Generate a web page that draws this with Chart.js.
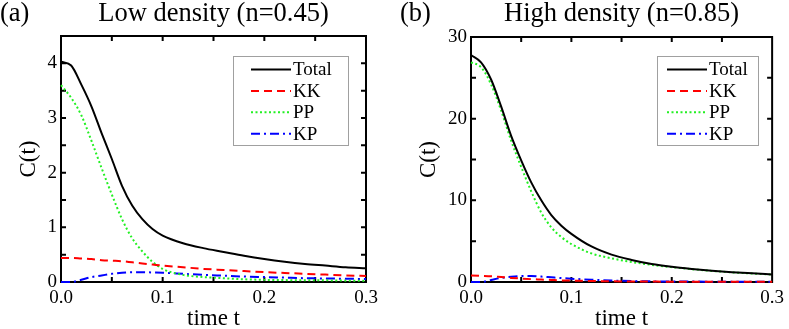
<!DOCTYPE html>
<html>
<head>
<meta charset="utf-8">
<script src="https://cdn.jsdelivr.net/npm/chart.js@4.4.1/dist/chart.umd.min.js"></script>
<style>
  html, body { margin: 0; padding: 0; background: #fff; }
  #wrap { position: relative; width: 789px; height: 329px; }
  canvas { position: absolute; top: 0; }
</style>
</head>
<body>
<div id="wrap">
  <canvas id="chartA" width="400" height="329" style="left:0"></canvas>
  <canvas id="chartB" width="389" height="329" style="left:400px"></canvas>
</div>
<script>
// time points shared by both panels
const times = [0, 0.01, 0.02, 0.03, 0.04, 0.05, 0.06, 0.07, 0.08, 0.09, 0.1,
  0.12, 0.14, 0.16, 0.18, 0.2, 0.22, 0.24, 0.26, 0.28, 0.3];

// (a) low density n=0.45
const totalA = [4.03, 3.96, 3.61, 3.21, 2.72, 2.25, 1.76, 1.40, 1.15, 0.97, 0.85,
  0.71, 0.62, 0.55, 0.48, 0.42, 0.37, 0.33, 0.30, 0.27, 0.25];
const kkA = [0.44, 0.44, 0.43, 0.42, 0.40, 0.39, 0.38, 0.36, 0.34, 0.32, 0.30,
  0.27, 0.24, 0.22, 0.20, 0.18, 0.165, 0.15, 0.135, 0.12, 0.11];
const ppA = [3.60, 3.37, 3.05, 2.58, 2.08, 1.60, 1.15, 0.80, 0.56, 0.37, 0.24,
  0.13, 0.09, 0.07, 0.05, 0.04, 0.035, 0.03, 0.03, 0.025, 0.02];
const kpA = [0, 0.0, 0.04, 0.09, 0.12, 0.15, 0.17, 0.18, 0.18, 0.175, 0.17,
  0.15, 0.13, 0.115, 0.10, 0.09, 0.08, 0.07, 0.065, 0.06, 0.055];

// (b) high density n=0.85
const totalB = [27.8, 26.9, 24.8, 21.5, 17.9, 14.9, 12.2, 10.0, 8.2, 6.9, 5.9,
  4.35, 3.35, 2.7, 2.2, 1.86, 1.6, 1.38, 1.2, 1.06, 0.93];
const kkB = [0.8, 0.75, 0.7, 0.6, 0.5, 0.42, 0.35, 0.3, 0.25, 0.2, 0.17,
  0.12, 0.08, 0.06, 0.05, 0.04, 0.04, 0.035, 0.03, 0.03, 0.03];
const ppB = [26.9, 26.3, 24.2, 21.0, 17.3, 14.1, 11.1, 8.5, 6.7, 5.5, 4.65,
  3.5, 2.9, 2.45, 2.1, 1.82, 1.57, 1.36, 1.18, 1.04, 0.92];
const kpB = [0, 0.0, 0.25, 0.5, 0.65, 0.72, 0.72, 0.66, 0.57, 0.48, 0.4,
  0.28, 0.18, 0.12, 0.08, 0.06, 0.05, 0.04, 0.035, 0.03, 0.03];

const seriesNames = ['Total', 'KK', 'PP', 'KP'];
const xTickLabels = ['0.0', '0.1', '0.2', '0.3'];

const FONT = '"Liberation Serif", serif';

function pts(ys) {
  return times.map((t, i) => ({ x: t, y: ys[i] }));
}

function makeDatasets(total, kk, pp, kp) {
  const common = { borderWidth: 2, pointRadius: 0, fill: false, cubicInterpolationMode: 'monotone', clip: 4 };
  return [
    { ...common, label: seriesNames[0], data: pts(total), borderColor: '#000000' },
    { ...common, label: seriesNames[1], data: pts(kk), borderColor: '#ff0000', borderDash: [8, 5] },
    { ...common, label: seriesNames[2], data: pts(pp), borderColor: '#22f022', borderDash: [2, 2.5] },
    { ...common, label: seriesNames[3], data: pts(kp), borderColor: '#0000ff', borderDash: [9, 4, 2, 4] }
  ];
}

// frame with inward ticks on all four sides
const framePlugin = {
  id: 'frame',
  beforeDatasetsDraw(chart) {
    const { ctx, chartArea: a, scales } = chart;
    ctx.save();
    ctx.strokeStyle = '#000';
    ctx.lineWidth = 2;
    ctx.beginPath();
    scales.x.ticks.forEach(t => {
      const px = scales.x.getPixelForValue(t.value);
      if (px <= a.left + 1 || px >= a.right - 1) return;
      ctx.moveTo(px, a.bottom); ctx.lineTo(px, a.bottom - 5);
      ctx.moveTo(px, a.top); ctx.lineTo(px, a.top + 5);
    });
    scales.y.ticks.forEach(t => {
      const py = scales.y.getPixelForValue(t.value);
      if (py <= a.top + 1 || py >= a.bottom - 1) return;
      ctx.moveTo(a.left, py); ctx.lineTo(a.left + 5, py);
      ctx.moveTo(a.right, py); ctx.lineTo(a.right - 5, py);
    });
    ctx.stroke();
    ctx.strokeRect(a.left, a.top, a.right - a.left, a.bottom - a.top);
    ctx.restore();
  },
  afterDraw(chart, args, opts) {
    const { ctx, chartArea: a } = chart;
    ctx.save();
    ctx.fillStyle = '#000';
    ctx.font = '26.5px ' + FONT;
    ctx.textBaseline = 'alphabetic';
    ctx.textAlign = 'left';
    ctx.fillText(opts.tag, 0, 21);
    ctx.textAlign = 'center';
    ctx.fillText(opts.title, (a.left + a.right) / 2, 21);

    // legend box
    const b = opts.legend;
    ctx.fillStyle = '#fff';
    ctx.fillRect(b.x, b.y, b.w, b.h);
    ctx.strokeStyle = '#a0a0a0';
    ctx.lineWidth = 1;
    ctx.strokeRect(b.x + 0.5, b.y + 0.5, b.w, b.h);
    ctx.font = '19px ' + FONT;
    ctx.textAlign = 'left';
    ctx.textBaseline = 'middle';
    chart.data.datasets.forEach((ds, i) => {
      const y = b.y + 13.5 + i * 21.4;
      ctx.strokeStyle = ds.borderColor;
      ctx.lineWidth = 2;
      ctx.setLineDash(ds.borderDash || []);
      ctx.beginPath();
      ctx.moveTo(b.x + b.lineX, y);
      ctx.lineTo(b.x + b.lineX + 40, y);
      ctx.stroke();
      ctx.setLineDash([]);
      ctx.fillStyle = '#000';
      ctx.fillText(ds.label, b.x + b.lineX + 42, y + 1);
    });
    ctx.restore();
  }
};

function makeChart(id, datasets, yMax, yStep, yLabelEvery, yWidth, pad, tag, title, legend) {
  return new Chart(document.getElementById(id), {
    type: 'line',
    data: { datasets },
    plugins: [framePlugin],
    options: {
      responsive: false,
      devicePixelRatio: 1,
      animation: false,
      layout: { padding: pad },
      plugins: {
        legend: { display: false },
        tooltip: { enabled: false },
        frame: { tag, title, legend }
      },
      scales: {
        x: {
          type: 'linear',
          min: 0,
          max: 0.3,
          grid: { display: false, drawTicks: false },
          border: { display: false },
          ticks: {
            stepSize: 0.05,
            autoSkip: false,
            maxRotation: 0,
            padding: 5,
            color: '#000',
            font: { family: FONT, size: 19 },
            callback: v => {
              const k = Math.round(v * 10);
              return Math.abs(v * 10 - k) < 1e-6 ? xTickLabels[k] : '';
            }
          },
          title: {
            display: true,
            text: 'time t',
            color: '#000',
            font: { family: FONT, size: 23 },
            padding: { top: 0, bottom: -4 }
          },
          afterFit: s => { s.height = 47; }
        },
        y: {
          min: 0,
          max: yMax,
          grid: { display: false, drawTicks: false },
          border: { display: false },
          ticks: {
            stepSize: yStep,
            autoSkip: false,
            padding: 4,
            color: '#000',
            font: { family: FONT, size: 19 },
            callback: v => (Math.abs(v / yLabelEvery - Math.round(v / yLabelEvery)) < 1e-6 ? String(Math.round(v)) : '')
          },
          title: {
            display: true,
            text: 'C(t)',
            color: '#000',
            font: { family: FONT, size: 23 },
            padding: { top: 15, bottom: 0 }
          },
          afterFit: s => { s.width = yWidth; }
        }
      }
    }
  });
}

makeChart('chartA', makeDatasets(totalA, kkA, ppA, kpA), 4.5, 0.5, 1, 61,
  { top: 36, right: 34, left: 0, bottom: 0 }, '(a)', 'Low density (n=0.45)',
  { x: 233, y: 56, w: 115, h: 89, lineX: 18 });

makeChart('chartB', makeDatasets(totalB, kkB, ppB, kpB), 30, 5, 10, 71,
  { top: 37, right: 12, left: 0, bottom: 0 }, '(b)', 'High density (n=0.85)',
  { x: 257, y: 56, w: 101, h: 89, lineX: 10 });
</script>
</body>
</html>
